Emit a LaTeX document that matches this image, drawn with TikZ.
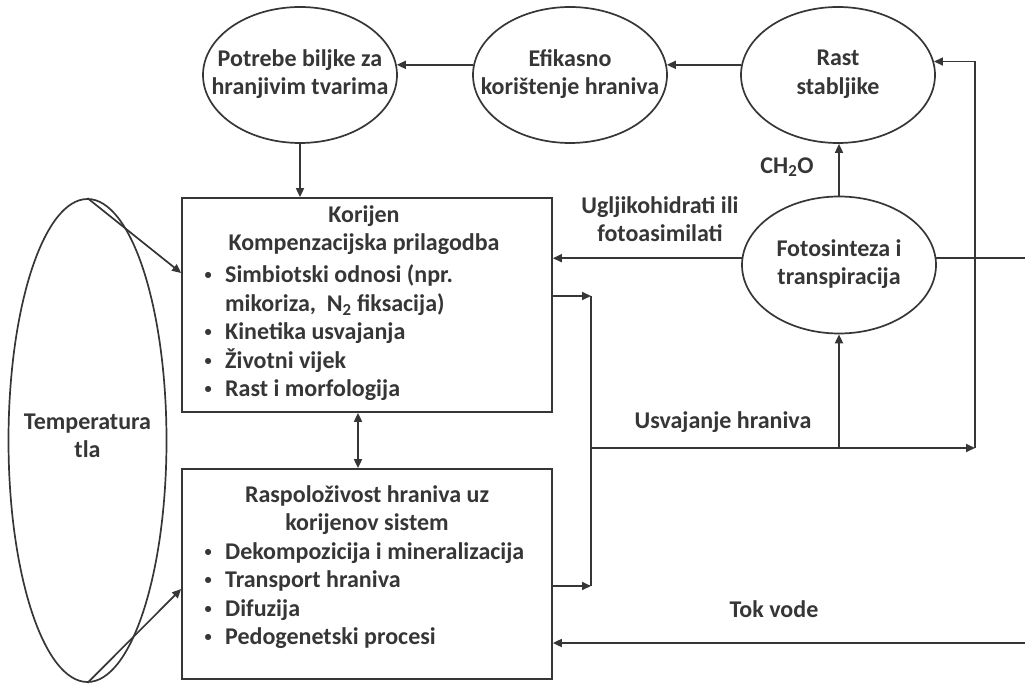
\documentclass[tikz,border=0pt]{standalone}
\usepackage{fontspec}
\setmainfont{Carlito}
\usetikzlibrary{shapes.geometric,arrows.meta,calc}
\definecolor{ink}{HTML}{363636}
\newcommand{\bulitem}{\makebox[22pt][l]{\hspace{1.5pt}\raisebox{3pt}{\scalebox{0.6}{\textbullet}}}}
\newcommand{\bulind}{\hspace*{22pt}}
\begin{document}
\begin{tikzpicture}[x=1pt,y=-1pt,
  every node/.style={font=\fontsize{24}{28.5}\selectfont\bfseries, text=ink},
  oval/.style={draw=ink, line width=1.7pt, ellipse, minimum width=194pt, minimum height=136pt, inner sep=0pt},
  boxx/.style={draw=ink, line width=1.7pt, rectangle, minimum width=370pt, inner sep=0pt},
  conn/.style={draw=ink, line width=1.7pt},
  arr/.style={conn, -{Triangle[length=9pt,width=8pt]}},
  darr/.style={conn, {Triangle[length=9pt,width=8pt]}-{Triangle[length=9pt,width=8pt]}},
  lbl/.style={align=center, inner sep=0pt},
]
\useasboundingbox (0,0) rectangle (1025,684);

% ellipses
\node[oval] (pot) at (300,75) {};
\node[lbl] (potl) at (300,74) {Potrebe biljke za\\hranjivim tvarima};
\node[oval] (efi) at (570,75) {};
\node[lbl] (efil) at (570,74) {Efikasno\\korištenje hraniva};
\node[oval] (rast) at (838,75) {};
\node[lbl] (rastl) at (838,74) {Rast\\stabljike};
\node[oval, minimum height=137pt] (foto) at (839,265) {};
\node[lbl] (fotol) at (839,264) {Fotosinteza i\\transpiracija};
\node[draw=ink, line width=1.7pt, ellipse, minimum width=158pt, minimum height=483pt, inner sep=0pt] (temp) at (87.5,440.5) {};
\node[lbl] (templ) at (87.5,436) {Temperatura\\tla};

% boxes
\node[boxx, minimum height=214pt] (kor) at (367,305) {};
\node[lbl] (kort) at (364,230) {Korijen\\Kompenzacijska prilagodba};
\node[lbl, align=left, anchor=west] (korl) at (203,333) {\bulitem Simbiotski odnosi (npr.\\\bulind mikoriza,\ \ N\textsubscript{2} fiksacija)\\\bulitem Kinetika usvajanja\\\bulitem Životni vijek\\\bulitem Rast i morfologija};

\node[boxx, minimum height=210pt] (ras) at (367,574) {};
\node[lbl] (rast1) at (367,510) {Raspoloživost hraniva uz\\korijenov sistem};
\node[lbl, align=left, anchor=west] (rasl) at (203,595.5) {\bulitem Dekompozicija i mineralizacija\\\bulitem Transport hraniva\\\bulitem Difuzija\\\bulitem Pedogenetski procesi};

% labels
\node[lbl] (ch) at (787,167) {CH\textsubscript{2}O};
\node[lbl] (ugl) at (660,219) {Ugljikohidrati ili\\fotoasimilati};
\node[lbl] (usv) at (723,422) {Usvajanje hraniva};
\node[lbl] (tok) at (774,609) {Tok vode};

% coordinates
\coordinate (jt) at (591,296);
\coordinate (jm) at (591,448);
\coordinate (jb) at (591,586);
\coordinate (rc) at (975,448);
\coordinate (redge) at (1025,0);
\coordinate (tv) at (1025,643);

% connectors
\draw[arr] (efi.174) -- (pot.6);
\draw[arr] (rast.174) -- (efi.6);
\draw[arr] (pot.south) -- (pot.south |- kor.north);
\draw[arr] (foto.north) -- (foto.north |- rast.south);
\draw[arr] (foto.176) -- (kor.east |- foto.176);
\draw[conn] (foto.4) -- (foto.4 -| redge);
\draw[arr] (rc) |- (rast.8);
\draw[conn] (jt) -- (jb);
\draw[arr] (kor.east |- jt) -- (jt);
\draw[arr] (ras.east |- jb) -- (jb);
\draw[arr] (jm) -- (rc);
\draw[arr] (foto.south |- jm) -- (foto.south);
\draw[arr] (tv) -- (ras.east |- tv);
\draw[darr] ([xshift=-9pt]kor.south) -- ([xshift=-9pt]ras.north);
\draw[arr] (temp.north) -- ([yshift=32pt]kor.west);
\draw[arr] (temp.south) -- ([yshift=-15pt]ras.west);
\end{tikzpicture}
\end{document}
